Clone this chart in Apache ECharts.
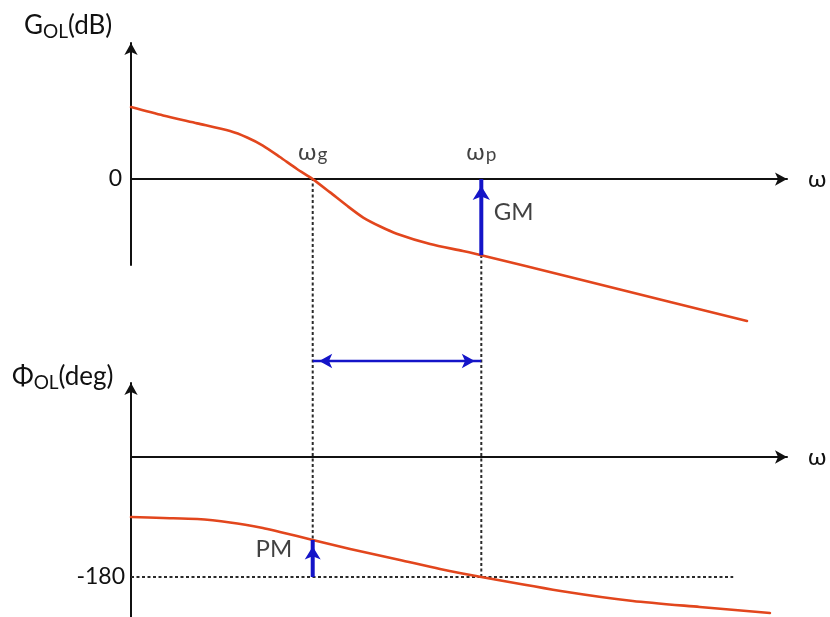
<!DOCTYPE html>
<html><head><meta charset="utf-8">
<script src="https://cdn.jsdelivr.net/npm/echarts@6/dist/echarts.min.js"></script>
<style>html,body{margin:0;padding:0;background:#fff}#c{width:830px;height:617px}</style>
</head><body><div id="c"></div>
<script>
// ---- data (schematic Bode plot) ----
const omegaGain = [0, 0.49, 1.01, 1.51, 1.77, 2.01, 2.27, 2.53, 2.77, 3.03, 3.29, 3.54, 3.80, 4.05, 4.56, 5.06, 5.34, 6.69, 8.22, 9.39];
const gainDb    = [40.2, 35.5, 31.1, 26.8, 23.2, 18.7, 12.3, 5.6, 0, -7.3, -14.8, -21.5, -26.5, -30.5, -36.3, -40.2, -42.5, -54.7, -68.7, -79.3];
const omegaPhase = [0, 0.49, 1.01, 1.51, 2.01, 2.27, 2.53, 2.77, 3.34, 4.10, 4.71, 5.34, 6.65, 7.65, 8.67, 9.74];
const phaseDeg   = [-90, -91.5, -93, -98.25, -106.5, -112.5, -118.5, -124.5, -138, -154.5, -168, -180, -202.5, -216, -225, -234];
const omegaG = 2.77;          // gain crossover
const omegaP = 5.34;          // phase crossover
const phaseRef = -180;
const refLineEnd = 9.18;
const spanArrowLevel = 144;   // level of the ωg–ωp span arrow (phase units)
const gainTicks = [0];
const phaseTicks = [-180];

const FONT = 'Lato';
const TXT = '#111';
const RED = '#e2461d';
const BLUE = '#1414c8';
const AX = '#111';

const gainAt = w => gainDb[omegaGain.indexOf(w)];
const phaseAt = w => phaseDeg[omegaPhase.indexOf(w)];

const chart = echarts.init(document.getElementById('c'));

function xAx(gi) {
  return {type:'value', gridIndex:gi, min:0, max:10,
    axisLine:{onZero:true, lineStyle:{color:AX, width:2}, symbol:['none','arrow'], symbolSize:[10,12]},
    axisTick:{show:false}, axisLabel:{show:false}, splitLine:{show:false},
    name:'ω', nameLocation:'end', nameGap:21,
    nameTextStyle:{fontFamily:FONT, fontSize:24, color:TXT}};
}
function yAx(gi, min, max, ticks, margin) {
  return {type:'value', gridIndex:gi, min:min, max:max,
    axisLine:{show:true, onZero:true, lineStyle:{color:AX, width:2}, symbol:['none','arrow'], symbolSize:[10,12]},
    axisTick:{show:false}, splitLine:{show:false},
    axisLabel:{customValues:ticks, margin:margin, fontFamily:FONT, fontSize:23, color:TXT}};
}
function arrowEnd(dir, size) {
  const h = size[1];
  if (dir === 'up') return {symbolRotate:0, symbolOffset:[0, h/2]};
  if (dir === 'right') return {symbolRotate:-90, symbolOffset:[-h/2, 0]};
  return {symbolRotate:90, symbolOffset:[h/2, 0]};
}
function arrowSeries(gi, p0, p1, dir, width, size, bothDir) {
  const first = bothDir ? Object.assign({value:p0, symbol:'arrow', symbolSize:size}, arrowEnd(bothDir, size)) : {value:p0, symbol:'none'};
  const last = Object.assign({value:p1, symbol:'arrow', symbolSize:size}, arrowEnd(dir, size));
  return {type:'line', xAxisIndex:gi, yAxisIndex:gi, clip:false, z:6, showSymbol:true,
    lineStyle:{color:BLUE, width:width}, itemStyle:{color:BLUE}, data:[first, last], silent:true};
}
function dotted(gi, pts, id) {
  return {id:id, type:'line', xAxisIndex:gi, yAxisIndex:gi, clip:false, z:2, symbol:'none',
    lineStyle:{color:'#2a2a2a', width:2, type:[3,2.5]}, data:pts, silent:true};
}
function labelPoint(gi, pt, text, pos, dist, offset) {
  return {type:'scatter', xAxisIndex:gi, yAxisIndex:gi, clip:false, symbolSize:1, itemStyle:{color:'rgba(0,0,0,0)'}, z:7,
    data:[{value:pt, name:text}],
    label:{show:true, position:pos, distance:dist, offset:offset||[0,0], formatter:text,
      fontFamily:FONT, fontSize:24, color:TXT,
      rich:{w:{fontFamily:FONT, fontSize:24, color:TXT, verticalAlign:'middle'},
            s:{fontFamily:FONT, fontSize:19, color:TXT, verticalAlign:'bottom', padding:[0,0,0,1]}}}};
}
const titleRich = {
  a:{fontFamily:FONT, fontSize:26, fontWeight:'normal', color:TXT, verticalAlign:'middle', lineHeight:30},
  b:{fontFamily:FONT, fontSize:19, fontWeight:'normal', color:TXT, verticalAlign:'bottom'}
};
function curve(gi, xs, ys) {
  return {type:'line', xAxisIndex:gi, yAxisIndex:gi, clip:false, smooth:0.25, symbol:'none', z:4,
    lineStyle:{color:RED, width:2.6, cap:'round', join:'round'}, data:xs.map((w,i)=>[w, ys[i]]), silent:true};
}

const option = {
  animation:false,
  backgroundColor:'#fff',
  title:[
    {text:'{a|G}{b|OL}{a|(dB)}', left:24, top:11, padding:0, textStyle:{fontWeight:'normal', rich:titleRich}},
    {text:'{a|Φ}{b|OL}{a|(deg)}', left:12, top:362, padding:0, textStyle:{fontWeight:'normal', rich:titleRich}}
  ],
  grid:[{left:131, right:43, top:43, height:222}, {left:131, right:43, top:383, bottom:0}],
  xAxis:[xAx(0), xAx(1)],
  yAxis:[yAx(0, -48, 76, gainTicks, 9), yAx(1, -240, 111, phaseTicks, 6)],
  series:[
    dotted(1, [], 'connG'),
    dotted(1, [], 'connP'),
    dotted(1, [[0, phaseRef], [refLineEnd, phaseRef]], 'ref180'),
    curve(0, omegaGain, gainDb),
    curve(1, omegaPhase, phaseDeg),
    arrowSeries(0, [omegaP, gainAt(omegaP)], [omegaP, 0], 'up', 4, [13,14]),
    arrowSeries(1, [omegaG, phaseRef], [omegaG, phaseAt(omegaG)], 'up', 4, [12,13]),
    arrowSeries(1, [omegaG, spanArrowLevel], [omegaP, spanArrowLevel], 'right', 2.5, [11,13], 'left'),
    labelPoint(0, [omegaG, 0], '{w|ω}{s|g}', 'top', 14),
    labelPoint(0, [omegaP, 0], '{w|ω}{s|p}', 'top', 14),
    labelPoint(0, [omegaP, gainAt(omegaP)/2], 'GM', 'right', 12, [0,-5]),
    labelPoint(1, [omegaG, (phaseRef + phaseAt(omegaG))/2], 'PM', 'left', 20, [0,-9])
  ]
};
chart.setOption(option);

// connectors from the gain plot down to the -180° level, mapped through both grids' scales
const topG = chart.convertFromPixel({gridIndex:1}, chart.convertToPixel({gridIndex:0}, [omegaG, 0]))[1];
const topP = chart.convertFromPixel({gridIndex:1}, chart.convertToPixel({gridIndex:0}, [omegaP, gainAt(omegaP)]))[1];
chart.setOption({series:[
  {id:'connG', data:[[omegaG, phaseRef], [omegaG, topG]]},
  {id:'connP', data:[[omegaP, phaseRef], [omegaP, topP]]}
]});
</script>
</body></html>
